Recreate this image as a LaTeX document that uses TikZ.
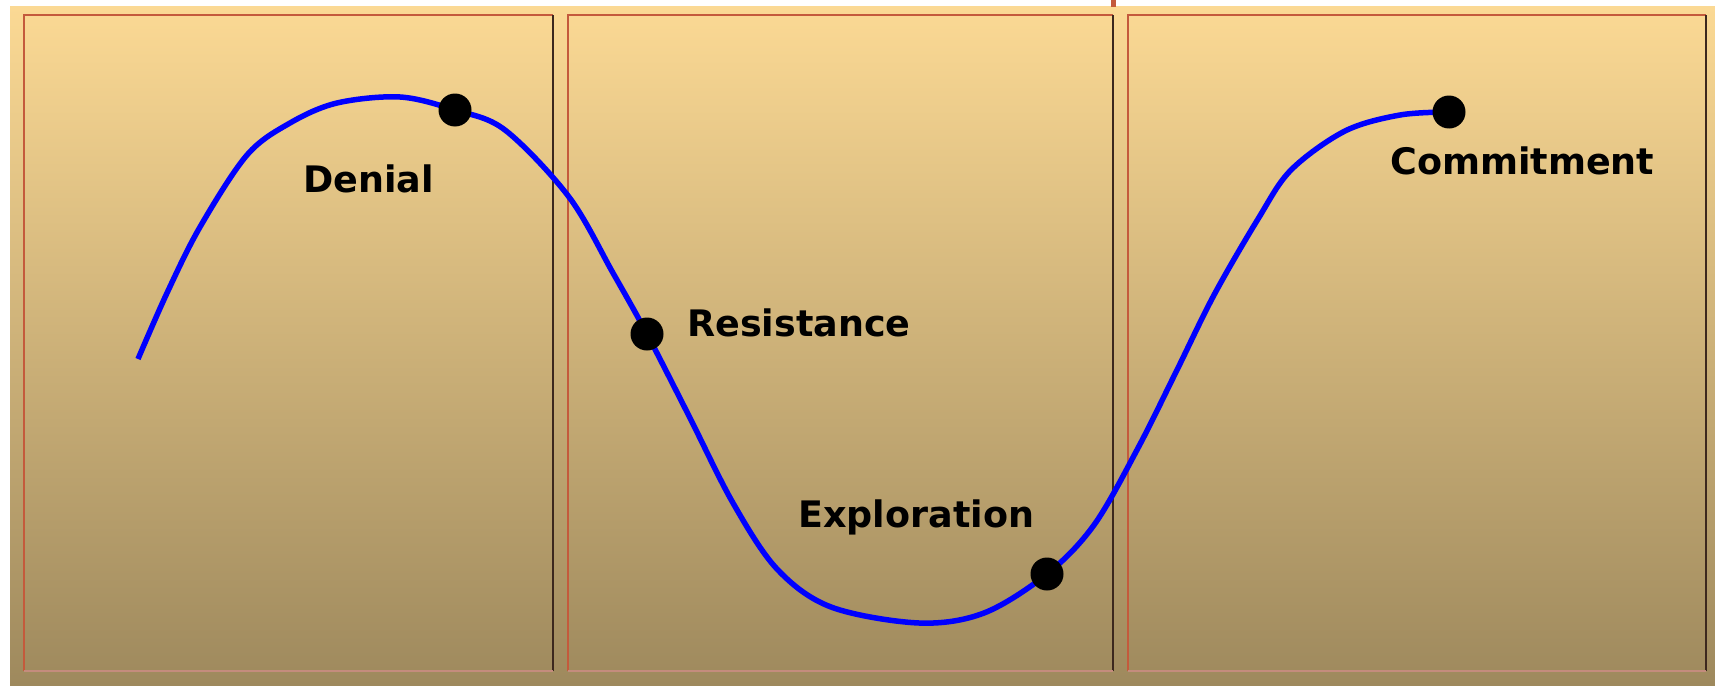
\documentclass[tikz,border=0pt]{standalone}
\usepackage{fontspec}
\setmainfont{DejaVu Sans}
\definecolor{bgtop}{RGB}{251,217,148}
\definecolor{bgbottom}{RGB}{158,137,93}
\definecolor{edgered}{RGB}{196,90,60}
\definecolor{edgedark}{RGB}{60,40,30}
\definecolor{edgepink}{RGB}{196,140,125}
\tikzset{
  stage/.style={font=\bfseries\fontsize{36.5}{40}\selectfont, inner sep=0pt, anchor=base west},
  stagedot/.style={fill=black},
}
\begin{document}
\begin{tikzpicture}[x=1pt, y=-1pt]
  \useasboundingbox (0,0) rectangle (1715,685);
  \shade[top color=bgtop, bottom color=bgbottom] (10,7) rectangle (1715,685);
  \draw[edgered, line width=5pt] (1113.5,0) -- (1113.5,7);
  % the three panels
  \foreach \xa/\xb in {24/553, 568/1113, 1128/1706} {
    \draw[edgered, line width=2pt] (\xa,671) -- (\xa,15.5) -- (\xb,15.5);
    \draw[edgedark, line width=1.5pt] (\xb,15.5) -- (\xb,671);
    \draw[edgepink, line width=2pt] (\xa,671) -- (\xb,671);
  }
  \coordinate (denial) at (455,110);
  \coordinate (resistance) at (647,334);
  \coordinate (exploration) at (1047,574);
  \coordinate (commitment) at (1449,112);
  \draw[blue, line width=5.5pt] plot[smooth, tension=0.55] coordinates {
    (138,359) (167,293) (200,227) (247,155) (290,123) (337,103) (400,97)
    (denial) (505,130) (569,197) (613,273) (resistance)
    (689,416) (733,503) (777,569) (831,607) (919,623) (984,613)
    (exploration) (1094,525) (1138,448) (1176,372) (1214,295) (1258,219)
    (1291,170) (1345,131) (1400,115) (commitment)};
  \foreach \p in {denial, resistance, exploration, commitment}
    \fill[stagedot] (\p) circle (16.5);
  \node[stage] (denialtext) at (303,192) {Denial};
  \node[stage] (resistancetext) at (687,336) {Resistance};
  \node[stage] (explorationtext) at (798,527) {Exploration};
  \node[stage] (commitmenttext) at (1390,174) {Commitment};
\end{tikzpicture}
\end{document}
